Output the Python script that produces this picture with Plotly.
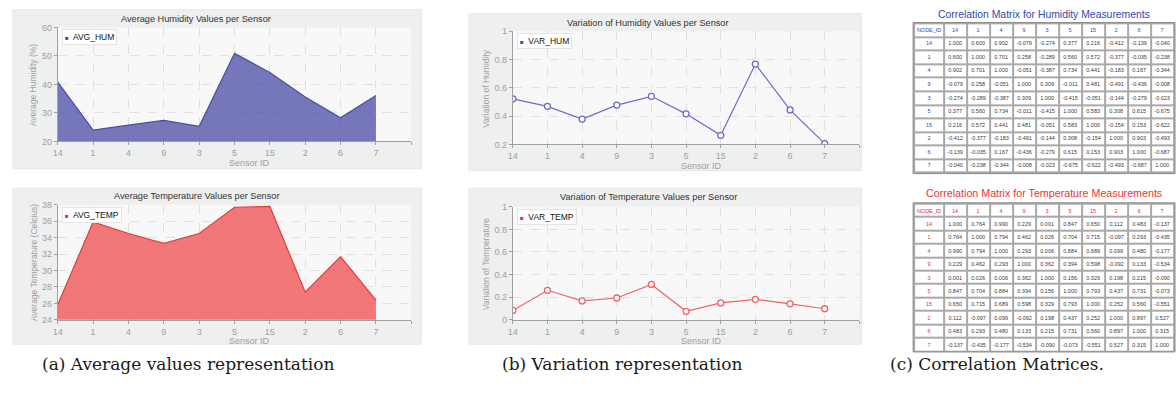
import plotly.graph_objects as go

W, H = 1176, 394

sensors = ["14", "1", "4", "9", "3", "5", "15", "2", "6", "7"]
avg_hum = [40.8, 24.0, 25.7, 27.4, 25.3, 50.9, 44.2, 35.6, 28.3, 36.1]
avg_temp = [25.85, 35.9, 34.5, 33.3, 34.5, 37.7, 37.8, 27.35, 31.7, 26.4]
var_hum = [0.522, 0.469, 0.379, 0.478, 0.540, 0.416, 0.264, 0.768, 0.444, 0.205]
var_temp = [0.083, 0.261, 0.167, 0.193, 0.313, 0.075, 0.149, 0.181, 0.141, 0.098]

hum_corr = [
    [1.000, 0.600, 0.902, -0.079, -0.274, 0.377, 0.216, -0.412, -0.139, -0.040],
    [0.600, 1.000, 0.701, 0.258, -0.289, 0.560, 0.572, -0.377, -0.035, -0.238],
    [0.902, 0.701, 1.000, -0.051, -0.387, 0.734, 0.441, -0.183, 0.167, -0.344],
    [-0.079, 0.258, -0.051, 1.000, 0.309, -0.011, 0.481, -0.491, -0.436, -0.008],
    [-0.274, -0.289, -0.387, 0.309, 1.000, -0.415, -0.051, -0.144, -0.279, -0.023],
    [0.377, 0.560, 0.734, -0.011, -0.415, 1.000, 0.583, 0.308, 0.615, -0.675],
    [0.216, 0.572, 0.441, 0.481, -0.051, 0.583, 1.000, -0.154, 0.153, -0.622],
    [-0.412, -0.377, -0.183, -0.491, -0.144, 0.308, -0.154, 1.000, 0.903, -0.493],
    [-0.139, -0.035, 0.167, -0.436, -0.279, 0.615, 0.153, 0.903, 1.000, -0.687],
    [-0.040, -0.238, -0.344, -0.008, -0.023, -0.675, -0.622, -0.493, -0.687, 1.000],
]
temp_corr = [
    [1.000, 0.764, 0.990, 0.229, 0.001, 0.847, 0.650, 0.112, 0.483, -0.137],
    [0.764, 1.000, 0.794, 0.462, 0.026, 0.704, 0.715, -0.097, 0.293, -0.435],
    [0.990, 0.794, 1.000, 0.293, 0.006, 0.884, 0.689, 0.099, 0.480, -0.177],
    [0.229, 0.462, 0.293, 1.000, 0.362, 0.394, 0.598, -0.092, 0.133, -0.534],
    [0.001, 0.026, 0.006, 0.362, 1.000, 0.156, 0.329, 0.198, 0.215, -0.090],
    [0.847, 0.704, 0.884, 0.394, 0.156, 1.000, 0.793, 0.437, 0.731, -0.073],
    [0.650, 0.715, 0.689, 0.598, 0.329, 0.793, 1.000, 0.252, 0.560, -0.551],
    [0.112, -0.097, 0.099, -0.092, 0.198, 0.437, 0.252, 1.000, 0.897, 0.527],
    [0.483, 0.293, 0.480, 0.133, 0.215, 0.731, 0.560, 0.897, 1.000, 0.315],
    [-0.137, -0.435, -0.177, -0.534, -0.090, -0.073, -0.551, 0.527, 0.315, 1.000],
]

titles = [
    "Average Humidity Values per Sensor",
    "Average Temperature Values per Sensor",
    "Variation of Humidity Values per Sensor",
    "Variation of Temperature Values per Sensor",
]
ytitles = ["Average Humidity (%)", "Average Temperature (Celcius)",
           "Variation of Humidity", "Variation of Temperature"]
legend_names = ["AVG_HUM", "AVG_TEMP", "VAR_HUM", "VAR_TEMP"]
table_titles = ["Correlation Matrix for Humidity Measurements",
                "Correlation Matrix for Temperature Measurements"]
captions = ["(a) Average values representation", "(b) Variation representation",
            "(c) Correlation Matrices."]

FONT = "Liberation Sans"
GRAY = "#a0a0a0"
BLUE = "#3a46b0"
RED = "#ee2a2a"


def px(x):
    return x / W


def py(y):
    return 1 - y / H


def note(text, x, y, size, color, family=FONT, **kw):
    d = dict(text=text, xref="paper", yref="paper", x=px(x), y=py(y),
             xanchor="center", yanchor="middle", showarrow=False,
             font=dict(family=family, size=size, color=color))
    d.update(kw)
    return d


idx = list(range(len(sensors)))

fig = go.Figure()

panels = [
    dict(plot=(53, 408, 23, 140), box=(8, 418, 5, 168), yr=[20, 60], dt=10,
         title=(192, 14), col=BLUE),
    dict(plot=(53, 408, 205, 323), box=(8, 418, 188, 348), yr=[24, 38], dt=2,
         title=(192, 196), col=RED),
    dict(plot=(510, 858, 27, 143), box=(466, 860, 9, 170), yr=[0.2, 1.0], dt=0.2,
         title=(646, 18), col=BLUE),
    dict(plot=(510, 858, 207, 323), box=(466, 860, 188, 348), yr=[0, 1.0], dt=0.2,
         title=(646, 197), col=RED),
]

shapes = []
annotations = []
layout = {}

for i, p in enumerate(panels):
    x0, x1, y0, y1 = p["plot"]
    bx0, bx1, by0, by1 = p["box"]
    shapes.append(dict(type="rect", xref="paper", yref="paper", layer="below",
                       x0=px(bx0), x1=px(bx1), y0=py(by1), y1=py(by0),
                       fillcolor="#eeefef", line=dict(color="#e6e6e6", width=1)))
    shapes.append(dict(type="rect", xref="paper", yref="paper", layer="below",
                       x0=px(x0), x1=px(x1), y0=py(y1), y1=py(y0),
                       fillcolor="#f8f8f8", line=dict(width=0)))
    sfx = "" if i == 0 else str(i + 1)
    axis_common = dict(showgrid=True, gridcolor="#e0e0e0", griddash="dash", gridwidth=1,
                       showline=True, linecolor=GRAY, linewidth=1, ticks="outside",
                       ticklen=3, tickcolor=GRAY,
                       tickfont=dict(family=FONT, size=9, color=GRAY),
                       zeroline=False, fixedrange=True)
    layout["xaxis" + sfx] = dict(
        domain=[px(x0), px(x1)], range=[0, 10], anchor="y" + sfx,
        tickmode="array", tickvals=list(range(11)), ticktext=sensors + [""], **axis_common)
    layout["yaxis" + sfx] = dict(
        domain=[py(y1), py(y0)], range=p["yr"], dtick=p["dt"], anchor="x" + sfx,
        **axis_common)
    annotations.append(note(titles[i], p["title"][0], p["title"][1], 9.2, "#333333"))
    annotations.append(note("Sensor ID", (x0 + x1) / 2 + 15, y1 + 22, 9, GRAY))
    annotations.append(note(ytitles[i], bx0 + 21 if i < 2 else bx0 + 17, (y0 + y1) / 2,
                            8.5, GRAY, textangle=-90))
    annotations.append(note(
        f"<span style='color:{p['col']};font-size:6px'>■</span>  {legend_names[i]}",
        x0 + 4, y0 + 2, 8.5, "#111111", xanchor="left", yanchor="top",
        bgcolor="white", bordercolor="#e4e4e4", borderwidth=1, borderpad=2))

fig.add_trace(go.Scatter(x=idx, y=avg_hum, mode="lines", fill="tozeroy",
                         fillcolor="rgba(80,82,168,0.78)", line=dict(color="#4b4da3", width=1.2),
                         xaxis="x", yaxis="y", showlegend=False, hoverinfo="skip"))
fig.add_trace(go.Scatter(x=idx, y=avg_temp, mode="lines", fill="tozeroy",
                         fillcolor="rgba(240,104,106,0.9)", line=dict(color="#e23c3c", width=1.2),
                         xaxis="x2", yaxis="y2", showlegend=False, hoverinfo="skip"))
fig.add_trace(go.Scatter(x=idx, y=var_hum, mode="lines+markers",
                         line=dict(color="#6b6bd0", width=1.2),
                         marker=dict(symbol="circle", size=6, color="white",
                                     line=dict(color="#6b6bd0", width=1.3)),
                         xaxis="x3", yaxis="y3", showlegend=False, hoverinfo="skip"))
fig.add_trace(go.Scatter(x=idx, y=var_temp, mode="lines+markers",
                         line=dict(color="#f06464", width=1.2),
                         marker=dict(symbol="circle", size=6, color="white",
                                     line=dict(color="#f06464", width=1.3)),
                         xaxis="x4", yaxis="y4", showlegend=False, hoverinfo="skip"))

# correlation tables drawn as heatmaps with text
col_w = [30] + [23] * len(sensors)
x_edges = [0]
for w in col_w:
    x_edges.append(x_edges[-1] + w)
n = len(sensors) + 1
y_edges = list(range(n + 1))
white = [[0, "white"], [1, "white"]]

tables = [
    dict(mat=hum_corr, color=BLUE, tcolor="#3347b0", top=18, bottom=173, title_y=10,
         title_size=10.4, sfx="5"),
    dict(mat=temp_corr, color=RED, tcolor="#ee3333", top=203, bottom=356, title_y=193,
         title_size=10.7, sfx="6"),
]
for k, t in enumerate(tables):
    labels = [["NODE_ID"] + sensors] + [[s] + ["" for _ in sensors] for s in sensors]
    z_head = [[1 if (r == 0 or c == 0) else None for c in range(n)] for r in range(n)]
    vals = [["" for _ in range(n)]] + [
        [""] + [f"{t['mat'][r][c]:.3f}" for c in range(len(sensors))]
        for r in range(len(sensors))]
    z_vals = [[1 if (r > 0 and c > 0) else None for c in range(n)] for r in range(n)]
    for z, txt, col in [(z_head, labels, t["color"]), (z_vals, vals, "#3a3a3a")]:
        fig.add_trace(go.Heatmap(
            x=x_edges, y=y_edges, z=z, text=txt, texttemplate="%{text}",
            textfont=dict(family=FONT, size=5.5, color=col),
            colorscale=white, showscale=False, xgap=2, ygap=2, hoverinfo="skip",
            xaxis="x" + t["sfx"], yaxis="y" + t["sfx"]))
    layout["xaxis" + t["sfx"]] = dict(domain=[px(912), px(1175)], range=[-1, x_edges[-1] + 1],
                                     visible=False, fixedrange=True, anchor="y" + t["sfx"])
    layout["yaxis" + t["sfx"]] = dict(domain=[py(t["bottom"]), py(t["top"])],
                                     range=[n + 0.06, -0.06], visible=False,
                                     fixedrange=True, anchor="x" + t["sfx"])
    shapes.append(dict(type="rect", xref="paper", yref="paper", layer="below",
                       x0=px(912), x1=px(1175), y0=py(t["bottom"]), y1=py(t["top"]),
                       fillcolor="#a9a9a9", line=dict(color="#8c8c8c", width=1)))
    annotations.append(note(table_titles[k], 1043, t["title_y"],
                            t["title_size"], t["tcolor"]))

for text, cx in zip(captions, [184, 620, 996]):
    annotations.append(note(text, cx, 368, 17, "#1a1a1a", family="DejaVu Serif"))

fig.update_layout(
    width=W, height=H, margin=dict(l=0, r=0, t=0, b=0),
    paper_bgcolor="white", plot_bgcolor="rgba(0,0,0,0)",
    shapes=shapes, annotations=annotations, **layout,
)

fig.write_html("out.html", config={"displayModeBar": False},
               post_script="document.body.style.margin='0';document.body.style.padding='0';")
